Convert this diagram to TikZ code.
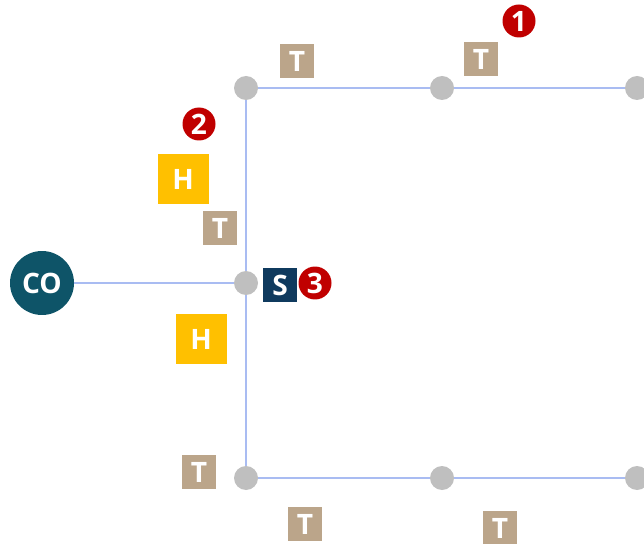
\documentclass[tikz,border=0pt]{standalone}
\usepackage{fontspec}
\setmainfont{Open Sans}
\definecolor{wire}{HTML}{A9BCF2}
\definecolor{dotgray}{HTML}{BFBFBF}
\definecolor{cocol}{HTML}{0E5468}
\definecolor{tcol}{HTML}{BBA58A}
\definecolor{hcol}{HTML}{FFC000}
\definecolor{scol}{HTML}{0F3A5E}
\definecolor{numred}{HTML}{C00000}
\tikzset{
  dot/.style={circle,fill=dotgray,inner sep=0pt,minimum size=0.48cm},
  conn/.style={draw=wire,line width=1.3pt},
  tag/.style={inner sep=0pt,text=white,font=\fontsize{16}{19}\selectfont\bfseries},
  tbox/.style={tag,fill=tcol,minimum size=0.68cm},
  hbox/.style={tag,fill=hcol,minimum size=1.02cm},
  sbox/.style={tag,fill=scol,minimum size=0.68cm},
  cobox/.style={tag,circle,fill=cocol,minimum size=1.28cm},
  num/.style={tag,circle,fill=numred,minimum size=0.66cm}
}
\begin{document}
\begin{tikzpicture}[x=0.02cm,y=-0.02cm]
  \useasboundingbox (0,0) rectangle (644,543);

  % knoten
  \node[dot] (p1) at (246,88) {};
  \node[dot] (p2) at (442,88) {};
  \node[dot] (p3) at (637,88) {};
  \node[dot] (p4) at (246,283) {};
  \node[dot] (p5) at (246,478) {};
  \node[dot] (p6) at (442,478) {};
  \node[dot] (p7) at (637,478) {};
  \node[cobox] (co) at (42,283) {CO};

  % leitungen
  \draw[conn] (co) -- (p4);
  \draw[conn] (p1) -- (p2);
  \draw[conn] (p2) -- (p3);
  \draw[conn] (p1) -- (p4);
  \draw[conn] (p4) -- (p5);
  \draw[conn] (p5) -- (p6);
  \draw[conn] (p6) -- (p7);

  % markierungen
  \node[tbox] (t1) at (297,61) {T};
  \node[tbox] (t2) at (481,59) {T};
  \node[tbox] (t3) at (220,228) {T};
  \node[tbox] (t4) at (199,472) {T};
  \node[tbox] (t5) at (305,524) {T};
  \node[tbox] (t6) at (500,528) {T};
  \node[hbox] (h1) at (183,179) {H};
  \node[hbox] (h2) at (201,339) {H};
  \node[sbox] (s1) at (280,285) {S};

  % nummern
  \node[num] (n1) at (519,21) {1};
  \node[num] (n2) at (199,124) {2};
  \node[num] (n3) at (315,283) {3};
\end{tikzpicture}
\end{document}
